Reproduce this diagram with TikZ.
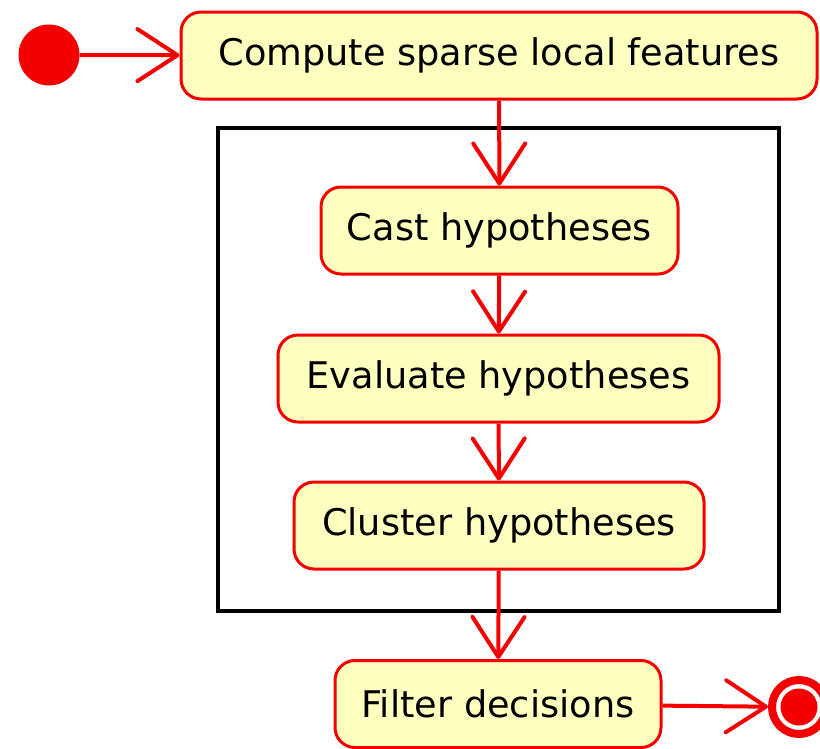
\documentclass[tikz,border=0pt]{standalone}
\usepackage{fontspec}
\setmainfont{DejaVu Sans}
\usetikzlibrary{arrows.meta}
\definecolor{umlred}{RGB}{245,0,0}
\definecolor{umlfill}{RGB}{255,255,192}
\tikzset{
  activity/.style={draw=umlred, line width=3pt, fill=umlfill, rounded corners=20pt,
    minimum height=87pt, inner sep=0pt, font=\fontsize{36.7}{40}\selectfont},
  flow/.style={draw=umlred, line width=4pt,
    -{Straight Barb[length=40pt, width=52pt, line width=4pt, round]}},
}
\begin{document}
\begin{tikzpicture}[x=1pt, y=-1pt]
  \useasboundingbox (0,0) rectangle (820,748);
  % initial node
  \node[circle, fill=umlred, minimum size=61pt, inner sep=0pt] (start) at (49,55) {};
  % activities
  \node[activity, minimum width=636pt] (compute) at (499,55.5) {Compute sparse local features};
  \node[activity, minimum width=357pt] (cast) at (499.5,230.5) {Cast hypotheses};
  \node[activity, minimum width=441pt] (eval) at (498.5,378.5) {Evaluate hypotheses};
  \node[activity, minimum width=410pt] (cluster) at (499,525.5) {Cluster hypotheses};
  \node[activity, minimum width=326pt] (filter) at (498,704) {Filter decisions};
  % grouping frame
  \node[draw=black, line width=4pt, minimum width=561pt, minimum height=483pt, inner sep=0pt]
    (group) at (498.5,369.5) {};
  % final node
  \node[circle, draw=umlred, line width=8pt, minimum size=54pt, inner sep=0pt] (final) at (799,707) {};
  \fill[umlred] (final.center) circle[radius=18.5pt];
  % control flow
  \draw[flow] (start) -- (compute);
  \draw[flow] (compute) -- (cast);
  \draw[flow] (cast) -- (eval);
  \draw[flow] (eval) -- (cluster);
  \draw[flow] (cluster) -- (filter);
  \draw[flow] (filter) -- (final);
\end{tikzpicture}
\end{document}
